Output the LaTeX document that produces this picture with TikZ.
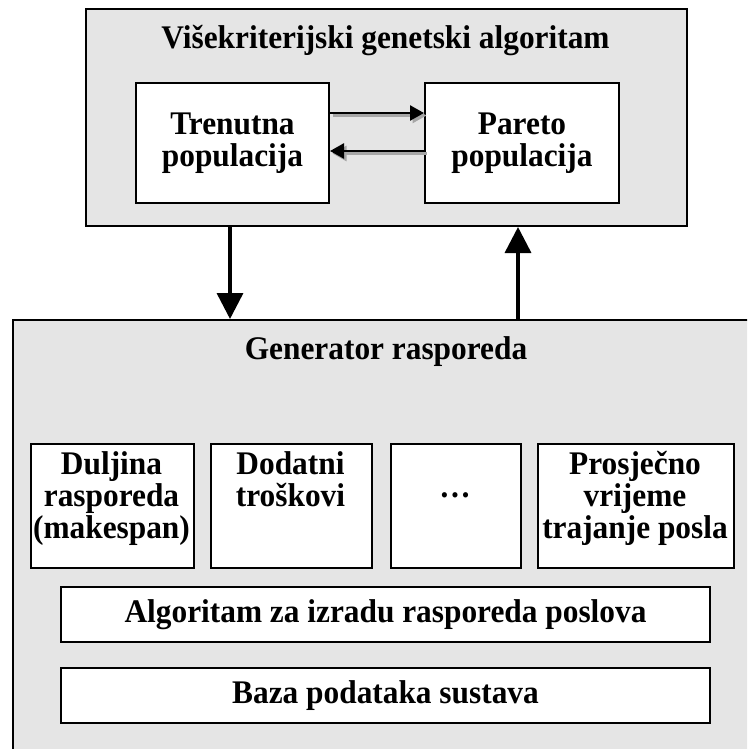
\documentclass[tikz,border=0pt]{standalone}
\usepackage{fontspec}
\setmainfont{Liberation Serif}[FakeStretch=0.95]
\usetikzlibrary{arrows.meta}
\definecolor{panelgray}{gray}{0.9}
\definecolor{shadowgray}{gray}{0.65}
\tikzset{
  panel/.style={draw=black, line width=2pt, fill=panelgray, inner sep=0pt},
  whitebox/.style={draw=black, line width=2pt, fill=white, inner sep=0pt},
  lbl/.style={font=\bfseries\fontsize{33}{32}\selectfont, align=center, inner sep=0pt},
  bigarrow/.style={line width=3.5pt, -{Triangle[length=26pt,width=26pt]}},
  smallarrow/.style={line width=2.5pt, -{Triangle[length=14pt,width=15pt]}},
  shadowarrow/.style={line width=2.5pt, draw=shadowgray, -{Triangle[length=14pt,width=15pt]}},
}
\begin{document}
\begin{tikzpicture}[x=1pt,y=-1pt]
\clip (0,0) rectangle (747,749);
\fill[white] (0,0) rectangle (747,749);

% upper panel
\node[panel, anchor=north west, minimum width=601, minimum height=217] (mga) at (85,8) {};
\node[lbl, anchor=base] (mgat) at (385.5,49) {Višekriterijski genetski algoritam};
\node[whitebox, lbl, anchor=north west, minimum width=193, minimum height=120] (tren) at (135,82) {Trenutna\\populacija};
\node[whitebox, lbl, anchor=north west, minimum width=194, minimum height=120] (par) at (424,82) {Pareto\\populacija};

% lower panel
\node[panel, anchor=north west, minimum width=760, minimum height=450] (gen) at (12,319) {};
\node[lbl, anchor=base] (gent) at (386,359) {Generator rasporeda};

\node[whitebox, anchor=north west, minimum width=163, minimum height=124] (dul) at (30,443) {};
\node[whitebox, anchor=north west, minimum width=161, minimum height=124] (dod) at (210,443) {};
\node[whitebox, anchor=north west, minimum width=130, minimum height=124] (dots) at (390,443) {};
\node[whitebox, anchor=north west, minimum width=196, minimum height=124] (pro) at (537,443) {};

\node[lbl, anchor=north] (dult) at (111.5,451) {Duljina\\rasporeda\\(makespan)};
\node[lbl, anchor=north] (dodt) at (290.5,451) {Dodatni\\troškovi};
\node[lbl, anchor=base] (dotst) at (455,497) {…};
\node[lbl, anchor=north] (prot) at (635,451) {Prosječno\\vrijeme\\trajanje posla};

\node[whitebox, lbl, anchor=north west, minimum width=649, minimum height=55] (alg) at (60,586) {Algoritam za izradu rasporeda poslova};
\node[whitebox, lbl, anchor=north west, minimum width=649, minimum height=55] (baza) at (60,667) {Baza podataka sustava};

% inner arrows
\coordinate (ya) at (0,113);
\coordinate (yb) at (0,151);
\begin{scope}[transform canvas={shift={(2.5pt,-2.5pt)}}]
  \draw[shadowarrow] (tren.east |- ya) -- (par.west |- ya);
  \draw[shadowarrow] (par.west |- yb) -- (tren.east |- yb);
\end{scope}
\draw[smallarrow] (tren.east |- ya) -- (par.west |- ya);
\draw[smallarrow] (par.west |- yb) -- (tren.east |- yb);

% panel arrows
\coordinate (xd) at (230,0);
\coordinate (xu) at (518,0);
\draw[bigarrow] (mga.south -| xd) -- (gen.north -| xd);
\draw[bigarrow] (gen.north -| xu) -- (mga.south -| xu);
\end{tikzpicture}
\end{document}
